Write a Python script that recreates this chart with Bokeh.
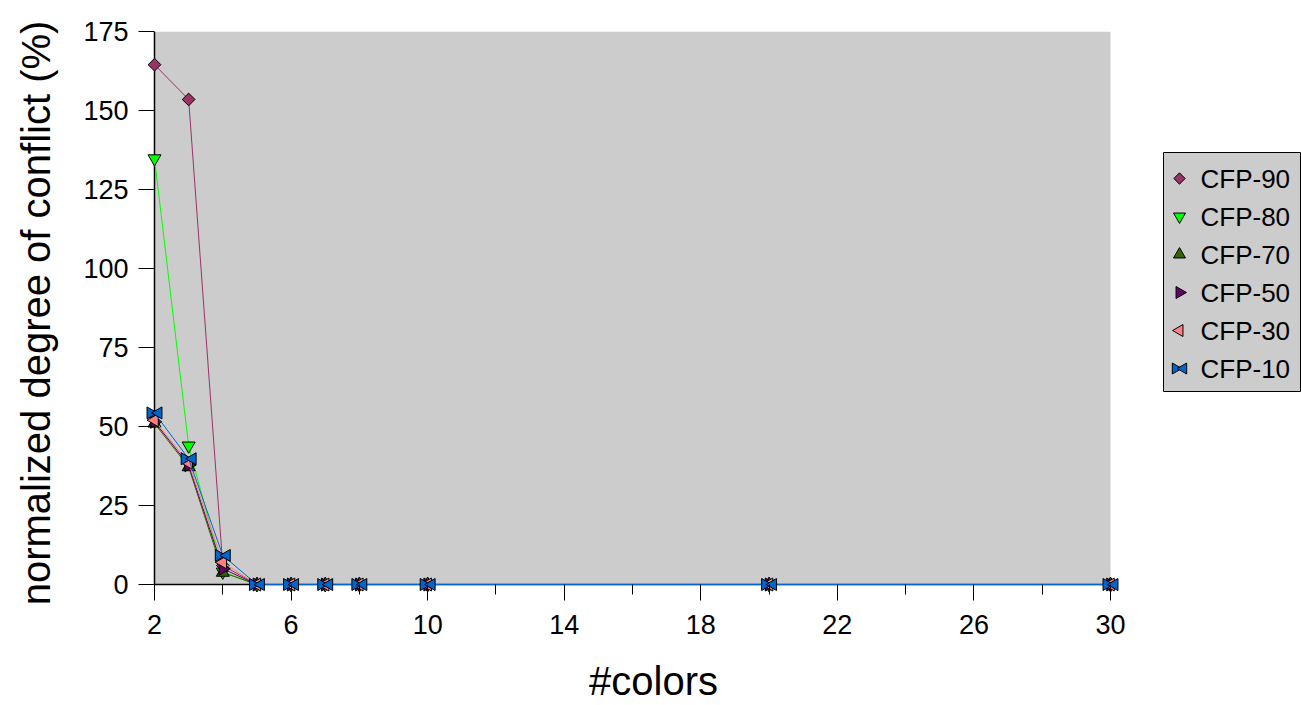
import math
from bokeh.plotting import figure
from bokeh.layouts import row, column
from bokeh.models import (FixedTicker, BoxAnnotation, ColumnDataSource,
                          Range1d, Spacer)
from bokeh.core.properties import value
from bokeh.transform import dodge
from bokeh.embed import file_html
from bokeh.resources import INLINE

# number of colors
colors_x = [2, 3, 4, 5, 6, 7, 8, 10, 20, 30]

# normalized degree of conflict (%) per configuration
cfp_90 = [164.5, 153.5, 6.0, 0, 0, 0, 0, 0, 0, 0]
cfp_80 = [134.8, 43.9, 4.0, 0, 0, 0, 0, 0, 0, 0]
cfp_70 = [51.0, 37.2, 3.8, 0, 0, 0, 0, 0, 0, 0]
cfp_50 = [51.5, 37.8, 5.0, 0, 0, 0, 0, 0, 0, 0]
cfp_30 = [52.0, 38.5, 7.0, 0, 0, 0, 0, 0, 0, 0]
cfp_10 = [54.3, 39.8, 9.2, 0, 0, 0, 0, 0, 0, 0]

series_names = ["CFP-90", "CFP-80", "CFP-70", "CFP-50", "CFP-30", "CFP-10"]

x_major = [2, 6, 10, 14, 18, 22, 26, 30]
x_minor = [4, 8, 12, 16, 20, 24, 28]
y_ticks = [0, 25, 50, 75, 100, 125, 150, 175]

X_MIN, X_MAX = 2, 30
Y_MIN, Y_MAX = 0, 175

FONT = "Liberation Sans"

# ---- geometry -------------------------------------------------------------
MAIN_W, H = 1162, 705
AXIS_X_PX, AXIS_TOP_PX, AXIS_BOTTOM_PX = 154, 31, 585   # axes corner pixels
DATA_W = 956                                          # px spanned by 2..30
PAD = 10          # room around the axes so edge markers are not cut off
ppu_x = DATA_W / (X_MAX - X_MIN)
ppu_y = (AXIS_BOTTOM_PX - AXIS_TOP_PX) / (Y_MAX - Y_MIN)
frame_left = AXIS_X_PX - PAD
frame_w = MAIN_W - frame_left
x_start = X_MIN - PAD / ppu_x
x_end = x_start + frame_w / ppu_x
y_start = Y_MIN - PAD / ppu_y

p = figure(width=MAIN_W, height=H, x_range=(x_start, x_end),
           y_range=(y_start, Y_MAX),
           output_backend="svg", toolbar_location=None,
           min_border_left=frame_left, min_border_right=0,
           min_border_top=AXIS_TOP_PX,
           min_border_bottom=H - AXIS_BOTTOM_PX - PAD)
p.background_fill_color = "white"
p.border_fill_color = "white"
p.outline_line_color = None
p.xgrid.visible = False
p.ygrid.visible = False

# grey plot area
p.add_layout(BoxAnnotation(left=X_MIN, right=X_MAX, bottom=Y_MIN, top=Y_MAX,
                           fill_color="#cccccc", fill_alpha=1,
                           line_color=None, level="underlay"))

# axis lines along the edges of the grey area (drawn beneath the series)
p.segment(x0=[X_MIN, X_MIN], y0=[Y_MIN, Y_MIN], x1=[X_MAX, X_MIN],
          y1=[Y_MIN, Y_MAX], line_color="black", line_width=1.5)

# the axes sit PAD px outside the grey area; ticks reach back to its edge
for ax in (p.xaxis[0], p.yaxis[0]):
    ax.axis_line_color = None
    ax.major_tick_line_color = "black"
    ax.minor_tick_line_color = "black"
    ax.major_tick_in = PAD
    ax.major_tick_out = 16 - PAD
    ax.major_label_text_font = FONT
    ax.major_label_text_font_size = "27px"
    ax.major_label_text_color = "black"
    ax.axis_label_text_font = FONT
    ax.axis_label_text_font_size = "40px"
    ax.axis_label_text_font_style = "normal"
    ax.axis_label_text_color = "black"

p.xaxis.ticker = FixedTicker(ticks=x_major, minor_ticks=x_minor)
p.xaxis.minor_tick_in = PAD
p.xaxis.minor_tick_out = 0
p.xaxis.major_label_standoff = 14
p.xaxis.axis_label = "#colors"
p.xaxis.axis_label_standoff = 22
p.xaxis.axis_label_text_line_height = 1.0

p.yaxis.ticker = FixedTicker(ticks=y_ticks, minor_ticks=[])
p.yaxis.minor_tick_in = 0
p.yaxis.minor_tick_out = 0
p.yaxis.major_label_standoff = 10
p.yaxis.axis_label = "normalized degree of conflict (%)"
p.yaxis.axis_label_standoff = 22

# marker recipes: (marker, angle, size, horizontal shift in px)
BOW = 4.0
marker_specs = [
    [("square", math.pi / 4, 9, 0)],
    [("inverted_triangle", 0, 13, 0)],
    [("triangle", 0, 13, 0)],
    [("triangle", -math.pi / 2, 13, 0)],
    [("triangle", math.pi / 2, 13, 0)],
    [("triangle", -math.pi / 2, 12, -BOW), ("triangle", math.pi / 2, 12, BOW)],
]
series_colors = ["#993366", "#00ff00", "#336600", "#660066", "#ff8080", "#0066cc"]
series_values = [cfp_90, cfp_80, cfp_70, cfp_50, cfp_30, cfp_10]

for vals, col, specs in zip(series_values, series_colors, marker_specs):
    src = ColumnDataSource(dict(x=colors_x, y=vals))
    p.line("x", "y", source=src, line_color=col, line_width=1)
    for mk, ang, sz, dpx in specs:
        p.scatter(x=dodge("x", dpx / ppu_x, range=p.x_range), y="y", source=src,
                  marker=mk, angle=ang, size=sz,
                  fill_color=col, line_color="black", line_width=1)

# ---- legend panel ----------------------------------------------------------
LEG_W, LEG_H = 137, 239
ROW_PX = 38          # spacing between entries
FIRST_PX = 26        # centre of first entry below the box top
GLYPH_X, TEXT_X = 16, 37
n = len(series_names)
leg = figure(width=LEG_W + 2, height=LEG_H + 2,
             x_range=Range1d(0, LEG_W),
             y_range=Range1d((n - 1) + (LEG_H - FIRST_PX - (n - 1) * ROW_PX) / ROW_PX,
                             -FIRST_PX / ROW_PX),
             x_axis_type=None, y_axis_type=None,
             output_backend="svg", toolbar_location=None, min_border=1)
leg.grid.visible = False
leg.background_fill_color = "#cccccc"
leg.border_fill_color = "white"
leg.outline_line_color = "black"
leg.outline_line_width = 1

for i, (col, specs) in enumerate(zip(series_colors, marker_specs)):
    for mk, ang, sz, dpx in specs:
        leg.scatter(x=[GLYPH_X + dpx], y=[i], marker=mk, angle=ang, size=sz - 1,
                    fill_color=col, line_color="black", line_width=1)

leg.text(x=[TEXT_X] * n, y=list(range(n)), text=series_names,
         text_font=value(FONT), text_font_size="26px", text_color="black",
         text_baseline="middle", text_align="left")

layout = row(p, column(Spacer(width=LEG_W + 2, height=151), leg))

open("out.html", "w").write(file_html(layout, INLINE))
